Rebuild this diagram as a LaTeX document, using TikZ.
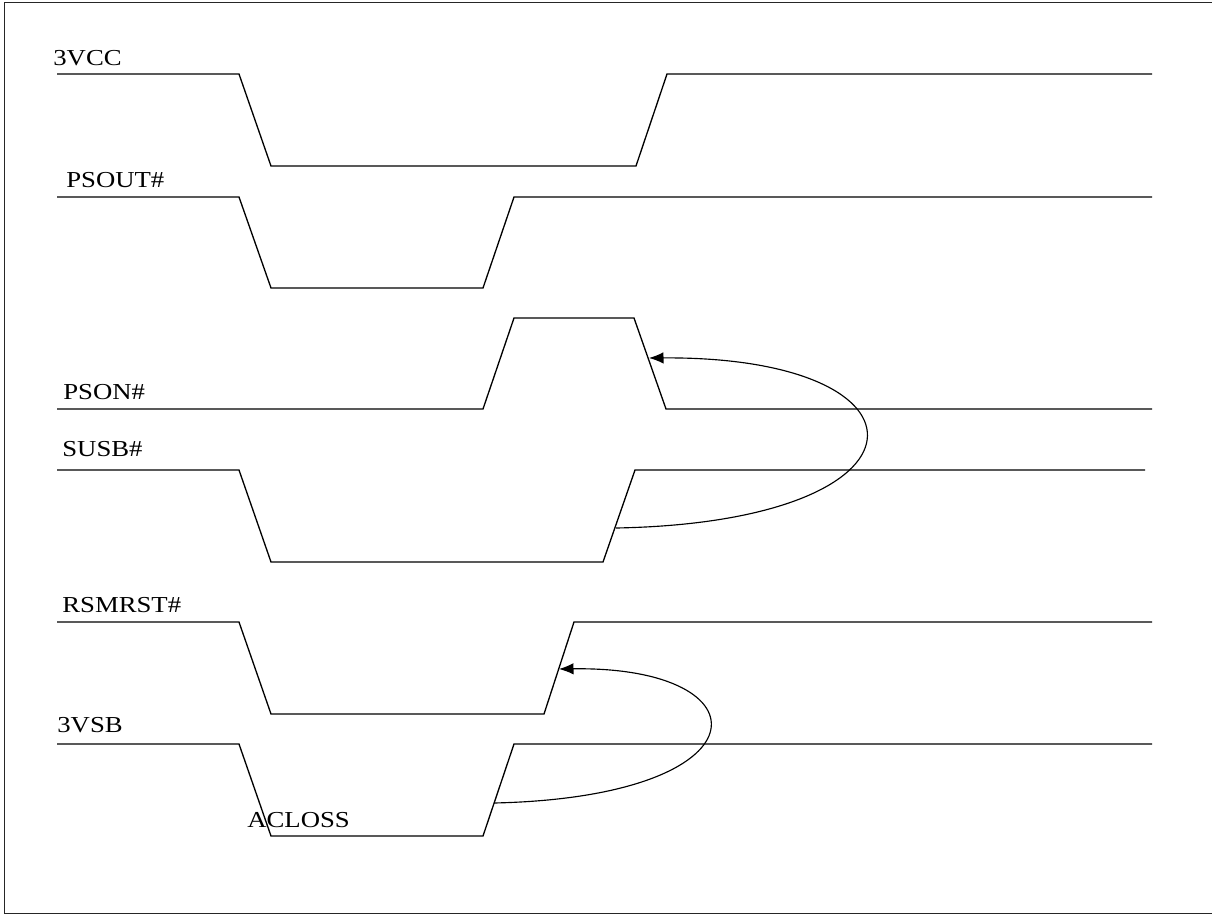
\documentclass[tikz,border=0pt]{standalone}
\usepackage{fontspec}
\setmainfont{Liberation Serif}[FakeStretch=1.17]
\usetikzlibrary{arrows.meta}

\begin{document}
\begin{tikzpicture}[x=0.02cm, y=-0.02cm,
  sig/.style={draw=black, line width=0.75pt, line join=miter},
  lbl/.style={anchor=base west, inner sep=0pt, font=\fontsize{13}{15}\selectfont},
  arr/.style={-{Latex[length=2.9mm,width=2.3mm]}, line width=0.65pt}
]
  \fill[white] (0,0) rectangle (1212,915);
  \useasboundingbox (0,0) rectangle (1212,915);
  \draw[line width=0.85pt, draw=black!85] (4.5,2.5) rectangle (1230,913.5);

  % signal names
  \node[lbl] (vcc)    at (53,66)   {3VCC};
  \node[lbl] (psout)  at (66,188)  {PSOUT\#};
  \node[lbl] (pson)   at (63,399)  {PSON\#};
  \node[lbl] (susb)   at (62,456)  {SUSB\#};
  \node[lbl] (rsmrst) at (62,612)  {RSMRST\#};
  \node[lbl] (vsb)    at (57,732)  {3VSB};
  \node[lbl] (acloss) at (247,827) {ACLOSS};

  % waveforms
  \draw[sig] (57,74)  -- (239,74)  -- (271,166) -- (636,166) -- (667,74)  -- (1152,74);
  \draw[sig] (57,197) -- (239,197) -- (271,288) -- (483,288) -- (514,197) -- (1152,197);
  \draw[sig] (57,409) -- (483,409) -- (514,318) -- (634,318) -- (666,409) -- (1152,409);
  \draw[sig] (57,470) -- (239,470) -- (271,562) -- (603,562) -- (635,470) -- (1145,470);
  \draw[sig] (57,622) -- (239,622) -- (271,714) -- (544,714) -- (574,622) -- (1152,622);
  \draw[sig] (57,744) -- (239,744) -- (271,836) -- (483,836) -- (514,744) -- (1152,744);

  % edge points
  \coordinate (susbup)   at (616,528);
  \coordinate (psondown) at (649,358);
  \coordinate (vsbup)    at (494,803);
  \coordinate (rsmup)    at (559,669);

  \draw[arr] (susbup) .. controls (943,522) and (943,356) .. (psondown);
  \draw[arr] (vsbup)  .. controls (769,797) and (769,666) .. (rsmup);
\end{tikzpicture}
\end{document}
